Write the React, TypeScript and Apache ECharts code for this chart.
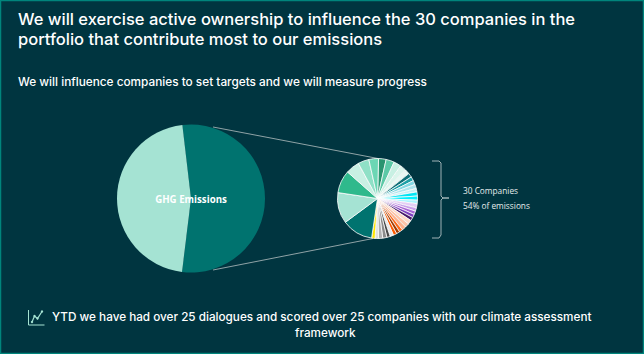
import React, { useEffect, useRef } from "react";
import * as echarts from "echarts";

const titleLines = [
  "We will exercise active ownership to influence the 30 companies in the",
  "portfolio that contribute most to our emissions",
];
const subtitle = "We will influence companies to set targets and we will measure progress";
const footerLines = [
  "YTD we have had over 25 dialogues and scored over 25 companies with our climate assessment",
  "framework",
];
const sideLabels = ["30 Companies", "54% of emissions"];

const ghgNames = ["30 Companies", "GHG Emissions"];
const ghgValues = [53.8, 46.2];
const ghgColors = ["#00736f", "#a5e3d3"];

const companyValues = [
  11, 12, 11, 9, 7, 6, 6, 6, 6, 5, 6, 6, 5, 6, 5, 5, 5, 5, 6, 6, 6, 5, 5, 5, 5, 5, 6, 6, 5, 5, 45, 45, 33, 20, 16, 14,
];
const companyColors = [
  "#2a9470", "#5cc9a7", "#c8f0e3", "#dbf5ec", "#e9f8f3", "#0f6f78", "#1fa0a8", "#84d8e4", "#aee5ee", "#c8eef4",
  "#00e5f5", "#00f0ff", "#a8f5ff", "#e4cdf5", "#c9a0ea", "#a864d4", "#7d3ec0", "#481a6a", "#ffd9c6", "#ffc4a8",
  "#ffb08a", "#ff6a1a", "#a33b00", "#ff5a00", "#e8e8e8", "#4a4a4a", "#8a8a8a", "#b0b0b0", "#e0e0e0", "#ffe600",
  "#00736f", "#a5e3d3", "#2fb98c", "#c8f0e3", "#8fe0c6", "#6cd6b4",
];

export default function App() {
  const ref = useRef<HTMLDivElement>(null);
  useEffect(() => {
    document.body.style.margin = "0";
    const chart = echarts.init(ref.current!, null, { renderer: "svg" });
    const textBase = { fontFamily: "Inter", fill: "#ffffff" };
    const line = { stroke: "#8fa3a6", lineWidth: 1 };
    const iconPoints = [[32, 322], [34.5, 316], [37.5, 318.5], [42, 311.5]];
    chart.setOption({
      animation: false,
      backgroundColor: "#003540",
      series: [
        {
          type: "pie",
          center: [191, 198.5],
          radius: [0, 74],
          startAngle: 96.7,
          silent: true,
          labelLine: { show: false },
          label: { show: false },
          data: ghgValues.map((value, i) => ({
            value,
            name: ghgNames[i],
            itemStyle: { color: ghgColors[i] },
            label: i === 1
              ? { show: true, position: "center", formatter: "{b}", color: "#ffffff", fontFamily: "Open Sans", fontWeight: 700, fontSize: 9.7, offset: [0, 1] }
              : { show: false },
          })),
        },
        {
          type: "pie",
          center: [377.5, 198.5],
          radius: [0, 40],
          startAngle: 88.5,
          silent: true,
          label: { show: false },
          labelLine: { show: false },
          itemStyle: { borderColor: "#ffffff", borderWidth: 0.8 },
          data: companyValues.map((value, i) => ({
            value,
            name: "Company " + (i + 1),
            itemStyle: { color: companyColors[i] },
          })),
        },
      ],
      graphic: [
        { type: "rect", shape: { x: 0.5, y: 0.5, width: 643, height: 353 }, style: { fill: "transparent", stroke: "#00857c", lineWidth: 1.5 } },
        { type: "text", x: 18, y: 10.5, style: { ...textBase, text: titleLines[0], fontSize: 16.5, fontWeight: 500 } },
        { type: "text", x: 18, y: 30, style: { ...textBase, text: titleLines[1], fontSize: 16.5, fontWeight: 500 } },
        { type: "text", x: 18, y: 76, style: { ...textBase, text: subtitle, fontSize: 11.8, fontWeight: 500 } },
        { type: "line", shape: { x1: 213, y1: 127, x2: 378, y2: 158.5 }, style: line },
        { type: "line", shape: { x1: 213, y1: 270, x2: 373, y2: 238.5 }, style: line },
        {
          type: "polyline",
          shape: { points: [[432, 161], [439, 161], [441, 163], [441, 196], [443, 198], [449, 198], [443, 198], [441, 200], [441, 235], [439, 238], [432, 238]] },
          style: { stroke: "#9fb3b6", lineWidth: 1, fill: "none" },
        },
        { type: "text", x: 463, y: 186, style: { text: sideLabels[0], fontFamily: "Open Sans", fill: "#e4ecec", fontSize: 8.3 } },
        { type: "text", x: 463, y: 201, style: { text: sideLabels[1], fontFamily: "Open Sans", fill: "#e4ecec", fontSize: 8.3 } },
        { type: "polyline", shape: { points: [[28.5, 310], [28.5, 325], [44.5, 325]] }, style: { stroke: "#a5e3d3", lineWidth: 1, fill: "none" } },
        { type: "polyline", shape: { points: iconPoints }, style: { stroke: "#a5e3d3", lineWidth: 1.2, fill: "none" } },
        ...iconPoints.map(([x, y]) => ({ type: "circle", shape: { cx: x, cy: y, r: 1.2 }, style: { fill: "#a5e3d3" } })),
        { type: "text", x: 52, y: 311, style: { ...textBase, text: footerLines[0], fontSize: 11.72, fontWeight: 500 } },
        { type: "text", x: 295, y: 327, style: { ...textBase, text: footerLines[1], fontSize: 11.72, fontWeight: 500 } },
      ],
    });
    return () => chart.dispose();
  }, []);
  return <div ref={ref} style={{ width: 644, height: 354 }} />;
}
